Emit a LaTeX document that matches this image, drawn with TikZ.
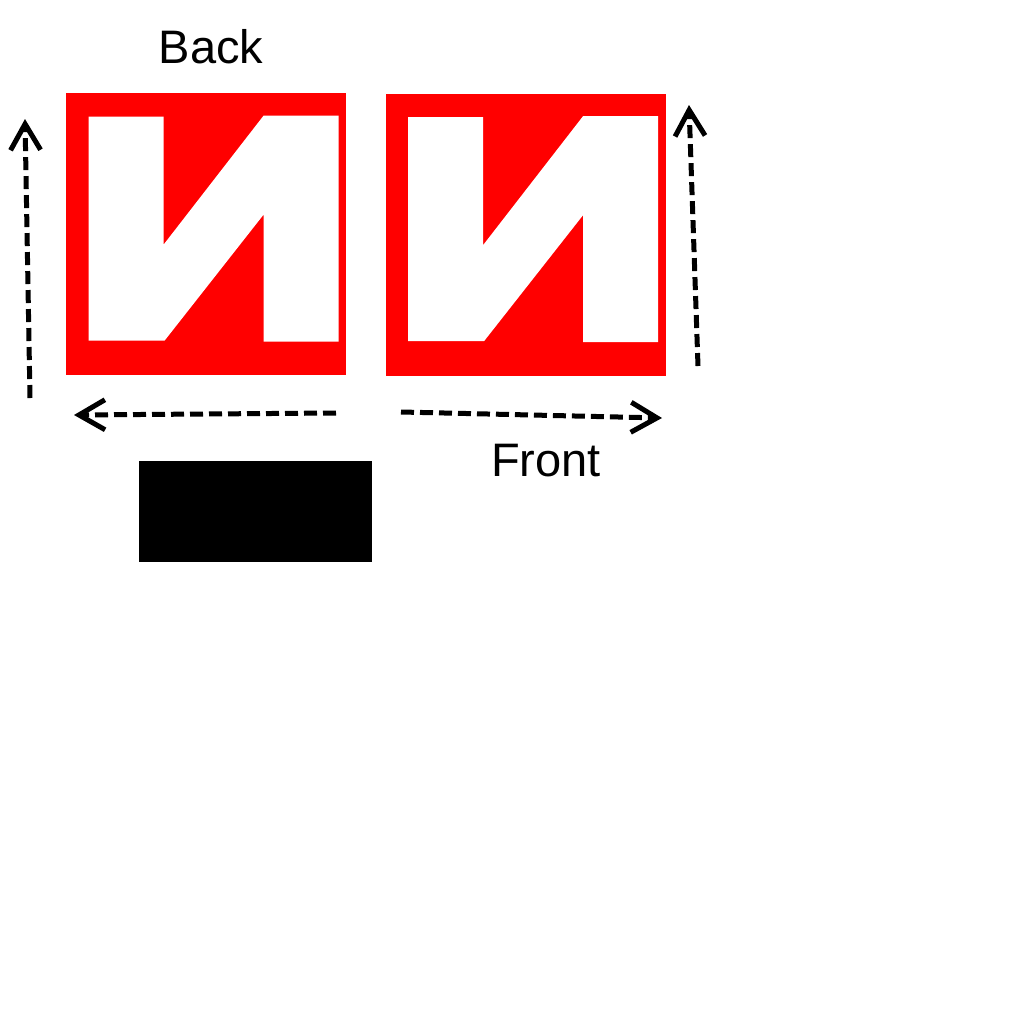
\documentclass[tikz,border=0pt]{standalone}
\usepackage{fontspec}
\setmainfont{Liberation Sans}
\usetikzlibrary{arrows.meta,positioning}
\tikzset{
  sq/.style   ={fill=red, inner sep=0pt, minimum width=140pt, minimum height=141pt},
  glyph/.style={fill=white},
  lbl/.style  ={font=\fontsize{23.5pt}{28pt}\selectfont, anchor=base, inner sep=0pt},
  blk/.style  ={fill=black, inner sep=0pt, minimum width=116.5pt, minimum height=50.5pt},
  mv/.style   ={-{Straight Barb[length=13pt,width=15pt]}, line width=2.5pt,
                dash pattern=on 6.5pt off 3pt},
}

\begin{document}
\begin{tikzpicture}[x=0.5pt,y=-0.5pt]
  \useasboundingbox (0,0) rectangle (1024,1024);

  % the two faces
  \node[sq] (backsq)  at (206,234)     {};
  \node[sq] (frontsq) at (525.5,234.5) {};

  % the letter on each face
  \foreach \f in {backsq,frontsq}
    \fill[glyph, shift={(\f.north west)}]
      (23,24) -- (98,24) -- (98,152) -- (198,23) -- (273,23) -- (273,249)
      -- (198,249) -- (198,122) -- (99,248) -- (23,248) -- cycle;

  \node[lbl] (back)  at (211,63)  {Back};
  \node[lbl] (front) at (546,476) {Front};

  \node[blk] (plate) at (255.5,511.5) {};

  % directions
  \coordinate (bvs) at (30,398);  \coordinate (bve) at (25,119);
  \coordinate (bhs) at (336,413); \coordinate (bhe) at (74,415);
  \coordinate (fhs) at (401,412); \coordinate (fhe) at (662,418);
  \coordinate (fvs) at (698,366); \coordinate (fve) at (689,105);

  \draw[mv] (bvs) -- (bve);
  \draw[mv] (bhs) -- (bhe);
  \draw[mv] (fhs) -- (fhe);
  \draw[mv] (fvs) -- (fve);
\end{tikzpicture}
\end{document}
